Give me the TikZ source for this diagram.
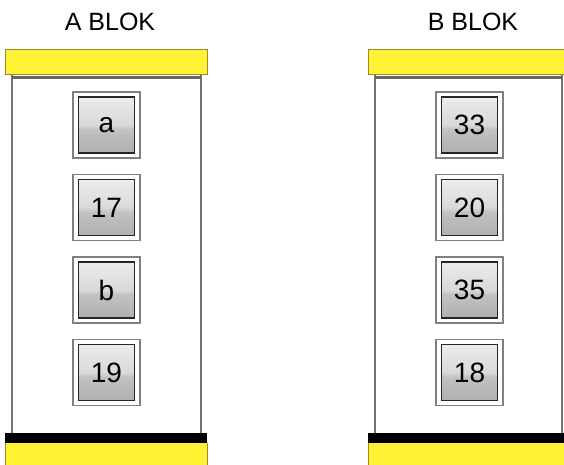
\documentclass[tikz,border=0pt]{standalone}
\usepackage{fontspec}
\setmainfont{Liberation Sans}
\definecolor{bar}{RGB}{255,242,52}
\definecolor{barline}{RGB}{150,140,40}
\pgfdeclareverticalshading{btnshade}{100bp}{color(0bp)=(black!40); color(46bp)=(black!24); color(50bp)=(black!15); color(100bp)=(white)}
\tikzset{
  topbar/.style={fill=bar, draw=barline, line width=0.8pt},
  body/.style={draw=black!55, line width=1.8pt, fill=white},
  frame/.style={draw=black!50, line width=1.8pt, minimum width=67pt, minimum height=66pt, inner sep=0pt},
  btn/.style={draw=black!85, line width=1.8pt, shading=btnshade, minimum width=56pt, minimum height=56pt, inner sep=0pt, font=\fontsize{28}{28}\selectfont},
  title/.style={font=\fontsize{25}{25}\selectfont}
}
\begin{document}
\begin{tikzpicture}[x=1pt,y=-1pt]
\useasboundingbox (0,0) rectangle (564,464);
\clip (0,0) rectangle (564,464);
% Block A
\node[title] (ta) at (110,22) {A BLOK};
\draw[body] (12,74) rectangle (201,434);
\draw[black!60, line width=3pt] (12,77) -- (201,77);
\draw[topbar] (5,49) rectangle (207,74);
\fill[black] (5,433) rectangle (207,443);
\fill[bar] (5,443) rectangle (207,470);
\draw[barline, line width=0.6pt] (5,443) -- (5,470) (207,443) -- (207,470);
\node[frame] (fa1) at (106.5,125) {};
\node[btn] (a1) at (106.5,125) {a};
\node[frame] (fa2) at (106.5,207.5) {};
\node[btn] (a2) at (106.5,207.5) {17};
\node[frame] (fa3) at (106.5,290) {};
\node[btn] (a3) at (106.5,290) {b};
\node[frame] (fa4) at (106.5,372.5) {};
\node[btn] (a4) at (106.5,372.5) {19};
% Block B
\node[title] (tb) at (473,22) {B BLOK};
\draw[body] (375,74) rectangle (562,434);
\draw[black!60, line width=3pt] (375,77) -- (562,77);
\draw[topbar] (368,49) rectangle (570,74);
\fill[black] (368,433) rectangle (570,443);
\fill[bar] (368,443) rectangle (570,470);
\draw[barline, line width=0.6pt] (368,443) -- (368,470);
\node[frame] (fb1) at (469.5,125) {};
\node[btn] (b1) at (469.5,125) {33};
\node[frame] (fb2) at (469.5,207.5) {};
\node[btn] (b2) at (469.5,207.5) {20};
\node[frame] (fb3) at (469.5,290) {};
\node[btn] (b3) at (469.5,290) {35};
\node[frame] (fb4) at (469.5,372.5) {};
\node[btn] (b4) at (469.5,372.5) {18};
\end{tikzpicture}
\end{document}
